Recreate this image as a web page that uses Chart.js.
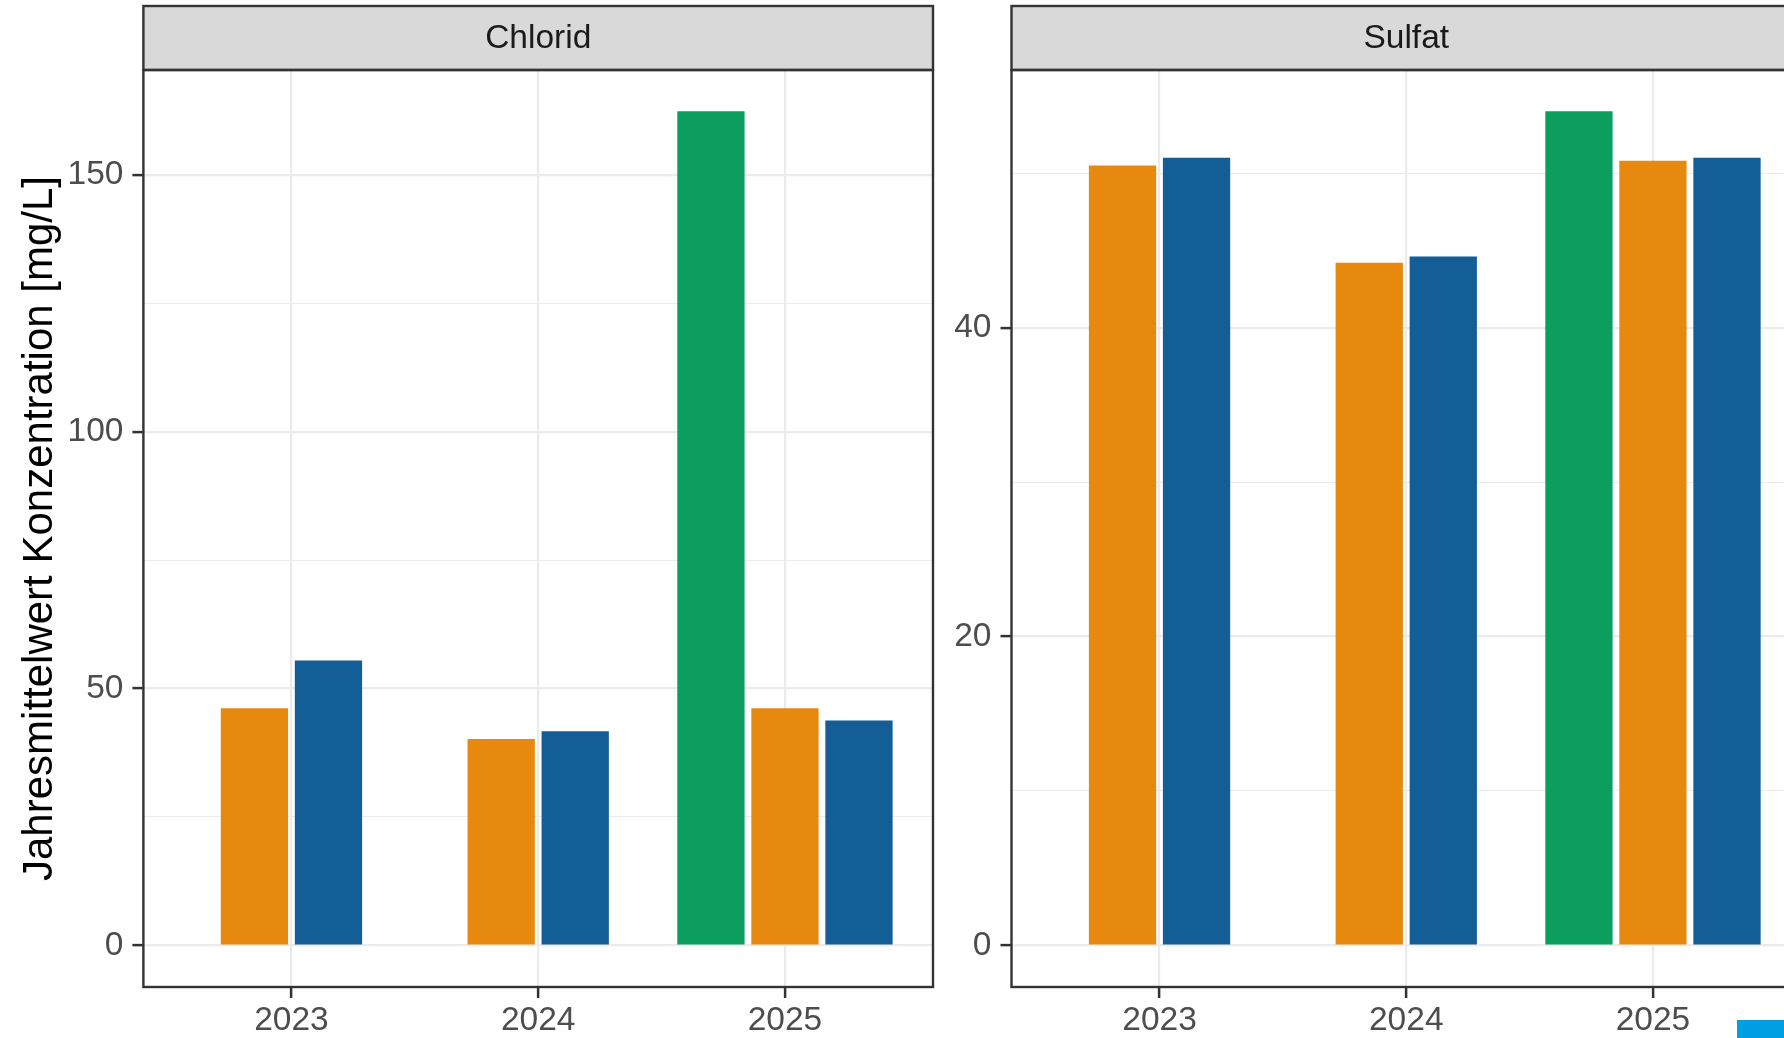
<!DOCTYPE html>
<html>
<head>
<meta charset="utf-8">
<script src="https://cdn.jsdelivr.net/npm/chart.js@4.4.1/dist/chart.umd.min.js"></script>
<style>
  html, body { margin: 0; padding: 0; background: #fff; overflow: hidden; width: 1784px; height: 1038px; position: relative; }
  canvas { position: absolute; top: 0; }
  #chloridChart { left: 0; }
  #sulfatChart { left: 940px; }
  .legend-key { position: absolute; left: 1737px; top: 1020px; width: 60px; height: 30px; background: #009FE3; }
</style>
</head>
<body>
<canvas id="chloridChart" width="950" height="1038"></canvas>
<canvas id="sulfatChart" width="880" height="1038"></canvas>
<div class="legend-key"></div>

<script>
    // data (null = no bar that year)
    const years = [2023, 2024, 2025];

    const chloridGreen = [null, null, 162.3];
    const chloridOrange = [46.1, 40.1, 46.1];
    const chloridBlue = [55.4, 41.6, 43.7];

    const sulfatGreen = [null, null, 54.0];
    const sulfatOrange = [50.5, 44.2, 50.8];
    const sulfatBlue = [51.0, 44.6, 51.0];

    const chloridTicks = [0, 50, 100, 150];
    const chloridMinor = [25, 75, 125];
    const sulfatTicks = [0, 20, 40];
    const sulfatMinor = [10, 30, 50];

    const seriesColors = ['#0B9E5F', '#E8890F', '#135E96'];

    const FONT = '"Liberation Sans", Arial, Helvetica, sans-serif';
    const PANEL_W = 789.6;      // width of one facet panel
    const AXIS_H = 51;          // room under the panel for the x labels

    // strip on top of the panel + dark panel border (ggplot theme_bw look)
    const facetFrame = {
        id: 'facetFrame',
        afterDraw(chart, args, opts) {
            const { ctx, chartArea: a } = chart;
            const stripTop = 6;
            ctx.save();
            ctx.fillStyle = '#D9D9D9';
            ctx.fillRect(a.left, stripTop, a.right - a.left, a.top - stripTop);
            ctx.strokeStyle = '#333333';
            ctx.lineWidth = 2.4;
            ctx.strokeRect(a.left, stripTop, a.right - a.left, a.top - stripTop);
            ctx.strokeRect(a.left, a.top, a.right - a.left, a.bottom - a.top);
            ctx.fillStyle = '#1A1A1A';
            ctx.font = '33.5px ' + FONT;
            ctx.textAlign = 'center';
            ctx.textBaseline = 'middle';
            ctx.fillText(opts.label, (a.left + a.right) / 2, (stripTop + a.top) / 2 + 1);
            ctx.restore();
        }
    };

    function makePanel(canvasId, label, series, ticks, minor, yWidth, padRight, showTitle) {
        const allValues = series.flat().filter(v => v !== null);
        const top = Math.max(...allValues);
        const pad = top * 0.05;
        const slot = PANEL_W / (years.length - 1 + 1.2) * 0.9 / series.length;
        const yTickValues = ticks.concat(minor).sort((a, b) => a - b);
        const isMajor = v => ticks.includes(v);

        const datasets = series.map((arr, i) => ({
            data: years.map((x, j) => ({ x: x, y: arr[j] })),
            backgroundColor: seriesColors[i],
            borderWidth: 0,
            barThickness: slot,
            maxBarThickness: slot * 0.9,
            skipNull: true
        }));

        return new Chart(document.getElementById(canvasId).getContext('2d'), {
            type: 'bar',
            data: { datasets: datasets },
            plugins: [facetFrame],
            options: {
                responsive: false,
                animation: false,
                layout: { padding: { top: 70, right: padRight, left: 0, bottom: 0 } },
                plugins: {
                    legend: { display: false },
                    tooltip: { enabled: false },
                    facetFrame: { label: label }
                },
                scales: {
                    x: {
                        type: 'linear',
                        bounds: 'data',
                        offset: false,
                        min: years[0] - 0.6,
                        max: years[years.length - 1] + 0.6,
                        afterBuildTicks: s => { s.ticks = years.map(v => ({ value: v })); },
                        afterFit: s => { s.height = AXIS_H; },
                        border: { display: false },
                        grid: {
                            offset: false,
                            color: '#EBEBEB',
                            lineWidth: 2.2,
                            tickColor: '#333333',
                            tickWidth: 2.5,
                            tickLength: 11
                        },
                        ticks: {
                            color: '#4D4D4D',
                            font: { family: FONT, size: 33.5 },
                            padding: 3,
                            maxRotation: 0,
                            callback: v => String(v)
                        }
                    },
                    y: {
                        type: 'linear',
                        bounds: 'data',
                        min: -pad,
                        max: top + pad,
                        afterBuildTicks: s => { s.ticks = yTickValues.map(v => ({ value: v })); },
                        afterFit: s => { s.width = yWidth; },
                        border: { display: false },
                        grid: {
                            color: '#EBEBEB',
                            lineWidth: c => isMajor(c.tick.value) ? 2.2 : 1.1,
                            tickColor: c => isMajor(c.tick.value) ? '#333333' : 'rgba(0,0,0,0)',
                            tickWidth: 2.5,
                            tickLength: 11
                        },
                        ticks: {
                            color: '#4D4D4D',
                            font: { family: FONT, size: 33.5 },
                            padding: 9,
                            callback: v => isMajor(v) ? String(v) : ''
                        },
                        title: {
                            display: showTitle,
                            text: 'Jahresmittelwert Konzentration [mg/L]',
                            color: '#000000',
                            font: { family: FONT, size: 42 },
                            padding: { top: 15, bottom: 0 }
                        }
                    }
                }
            }
        });
    }

    makePanel('chloridChart', 'Chlorid',
        [chloridGreen, chloridOrange, chloridBlue],
        chloridTicks, chloridMinor, 143.4, 17, true);

    makePanel('sulfatChart', 'Sulfat',
        [sulfatGreen, sulfatOrange, sulfatBlue],
        sulfatTicks, sulfatMinor, 71.5, 19, false);
</script>
</body>
</html>
